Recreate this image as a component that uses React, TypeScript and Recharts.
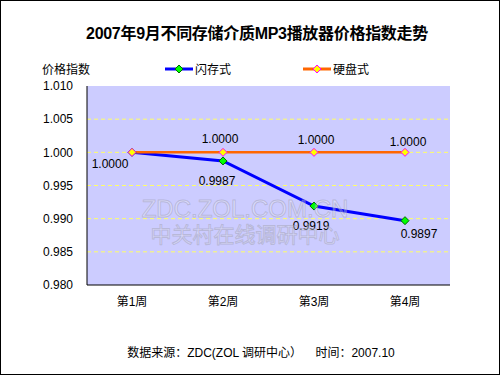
import React from "react";
import { LineChart, Line, XAxis, YAxis, CartesianGrid, LabelList } from "recharts";

const weeks = ["第1周", "第2周", "第3周", "第4周"];
const flashIndex = [1.0, 0.9987, 0.9919, 0.9897];
const hddIndex = [1.0, 1.0, 1.0, 1.0];
const yTicks = [0.98, 0.985, 0.99, 0.995, 1.0, 1.005, 1.01];

const data = weeks.map((w, i) => ({ week: w, flash: flashIndex[i], hdd: hddIndex[i] }));

const FONT = "'Liberation Sans', Arial, 'Noto Sans CJK SC', sans-serif";

// label nudges (px) per point, copied from the look of the original
const flashShift = [[-22, 12], [-6, 20], [-3, 20], [14, 13]];
const hddShift: (number[] | null)[] = [null, [-3, -13], [2, -12], [3, -10]];

function Diamond({ cx, cy, fill, stroke }: any) {
  if (cx == null || cy == null) return null;
  const r = 4;
  return (
    <polygon
      points={`${cx},${cy - r} ${cx + r},${cy} ${cx},${cy + r} ${cx - r},${cy}`}
      fill={fill}
      stroke={stroke}
      strokeWidth={1}
    />
  );
}

const makeLabel = (shift: (number[] | null)[]) => (p: any) => {
  const s = shift[p.index];
  if (!s) return null;
  return (
    <text
      x={p.x + s[0]}
      y={p.y + s[1]}
      textAnchor="middle"
      dominantBaseline="central"
      fontSize={12}
      fontFamily={FONT}
      fill="#000"
    >
      {Number(p.value).toFixed(4)}
    </text>
  );
};

function LegendItem({ color, fill, stroke, label }: any) {
  return (
    <div style={{ display: "flex", alignItems: "center" }}>
      <svg width={28} height={10}>
        <line x1={0} y1={5} x2={28} y2={5} stroke={color} strokeWidth={3} />
        <Diamond cx={14} cy={5} fill={fill} stroke={stroke} />
      </svg>
      <span style={{ marginLeft: 2 }}>{label}</span>
    </div>
  );
}

export default function App() {
  return (
    <div
      style={{
        position: "absolute",
        left: 0,
        top: 0,
        width: 500,
        height: 375,
        background: "#fff",
        fontFamily: FONT,
        fontSize: 12,
        color: "#000",
      }}
    >
      <LineChart
        width={500}
        height={375}
        data={data}
        margin={{ top: 86, right: 50, bottom: 60, left: 0 }}
      >
        <CartesianGrid
          vertical={false}
          fill="#CCCCFF"
          stroke="#FFFF66"
          strokeDasharray="4 3"
          horizontalValues={[0.985, 0.99, 0.995, 1.0, 1.005]}
        />
        <XAxis
          xAxisId="b"
          type="number"
          domain={[0, 4]}
          ticks={[1, 2, 3]}
          tick={false}
          tickLine={{ stroke: "#000" }}
          tickSize={5}
          axisLine={false}
          height={0}
          allowDataOverflow
        />
        <XAxis
          dataKey="week"
          tickLine={false}
          axisLine={{ stroke: "#000" }}
          tickSize={0}
          tickMargin={12}
          height={30}
          padding={{ left: 45, right: 45 }}
          tick={{ fill: "#000", fontSize: 12, fontFamily: FONT }}
        />
        <XAxis
          xAxisId="t"
          orientation="top"
          dataKey="week"
          tick={false}
          tickLine={false}
          axisLine={{ stroke: "#808080" }}
          height={0}
        />
        <YAxis
          domain={[0.98, 1.01]}
          ticks={yTicks}
          tickFormatter={(v: number) => v.toFixed(3)}
          tickLine={false}
          tickSize={0}
          tickMargin={14}
          axisLine={{ stroke: "#000" }}
          width={87}
          interval={0}
          tick={{ fill: "#000", fontSize: 12, fontFamily: FONT }}
        />
        <YAxis
          yAxisId="r"
          orientation="right"
          domain={[0.98, 1.01]}
          tick={false}
          tickLine={false}
          axisLine={{ stroke: "#808080" }}
          width={0}
        />
        <Line
          dataKey="flash"
          stroke="#0000FF"
          strokeWidth={3}
          isAnimationActive={false}
          dot={(p: any) => <Diamond key={p.index} cx={p.cx} cy={p.cy} fill="#00FF00" stroke="#006600" />}
        >
          <LabelList dataKey="flash" content={makeLabel(flashShift)} />
        </Line>
        <Line
          dataKey="hdd"
          stroke="#FF6600"
          strokeWidth={2.5}
          isAnimationActive={false}
          dot={(p: any) => <Diamond key={p.index} cx={p.cx} cy={p.cy} fill="#FFFF00" stroke="#FF00FF" />}
        >
          <LabelList dataKey="hdd" content={makeLabel(hddShift)} />
        </Line>
      </LineChart>

      <div style={{ position: "absolute", left: 7, top: 20, width: 500, textAlign: "center", fontSize: 16, fontWeight: "bold", letterSpacing: -0.3 }}>
        2007年9月不同存储介质MP3播放器价格指数走势
      </div>
      <div style={{ position: "absolute", left: 42, top: 60 }}>价格指数</div>
      <div style={{ position: "absolute", left: 165, top: 60 }}>
        <LegendItem color="#0000FF" fill="#00FF00" stroke="#006600" label="闪存式" />
      </div>
      <div style={{ position: "absolute", left: 303, top: 60 }}>
        <LegendItem color="#FF6600" fill="#FFFF00" stroke="#FF00FF" label="硬盘式" />
      </div>
      <div
        style={{
          position: "absolute",
          left: 140,
          top: 196,
          width: 210,
          textAlign: "center",
          lineHeight: "26px",
          fontSize: 24,
          color: "rgba(255,255,255,0.3)",
          WebkitTextStroke: "1px rgba(150,150,170,0.45)",
          pointerEvents: "none",
        }}
      >
        <div>ZDC.ZOL.COM.CN</div>
        <div style={{ fontSize: 21 }}>中关村在线调研中心</div>
      </div>
      <div style={{ position: "absolute", left: 11, top: 343, width: 500, textAlign: "center", whiteSpace: "pre" }}>
        {"数据来源：ZDC(ZOL 调研中心）    时间：2007.10"}
      </div>
      <div style={{ position: "absolute", left: 0, top: 0, width: 500, height: 375, border: "1px solid #000", boxSizing: "border-box", pointerEvents: "none" }} />
    </div>
  );
}
